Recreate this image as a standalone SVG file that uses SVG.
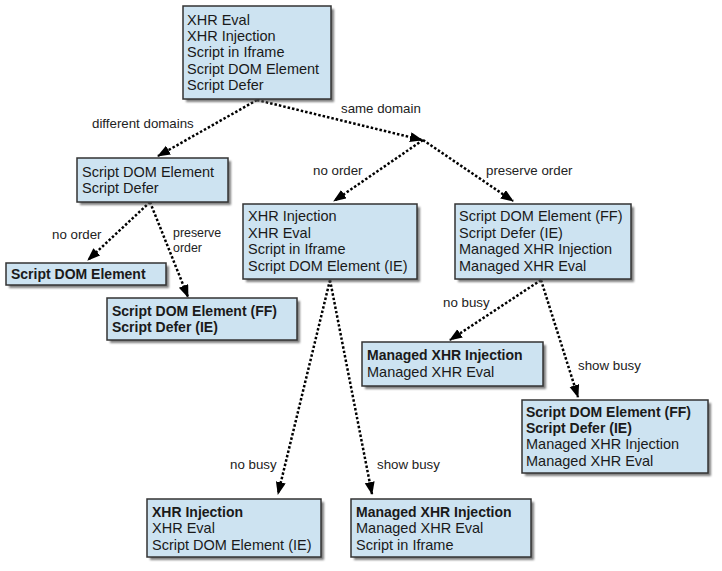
<svg xmlns="http://www.w3.org/2000/svg" width="722" height="571" viewBox="0 0 722 571">
<defs>
<filter id="sh" x="-10%" y="-10%" width="130%" height="140%">
<feGaussianBlur stdDeviation="1"/>
</filter>
<marker id="ah" markerUnits="userSpaceOnUse" markerWidth="14" markerHeight="12" refX="12" refY="5" orient="auto">
<path d="M0,0 L13,5 L0,10 z" fill="#000"/>
</marker>
</defs>
<style>
.box{fill:#cde3f1;stroke:#333;stroke-width:1.5}
.shd{fill:#555;opacity:0.75;filter:url(#sh)}
.t{font-family:"Liberation Sans",Arial,sans-serif;font-size:14.5px;fill:#1a1a1a}
.b{font-weight:bold;font-size:14px}
.lbl{font-family:"Liberation Sans",Arial,sans-serif;font-size:13.3px;fill:#222}
.sm{font-size:12.4px}
.c{fill:none;stroke:#000;stroke-width:2.5;stroke-dasharray:2.5 2;marker-end:url(#ah)}
</style>
<rect width="722" height="571" fill="#fff"/>

<g id="connectors">
<line class="c" x1="257" y1="100" x2="158" y2="156"/>
<line class="c" x1="257" y1="100" x2="422" y2="140"/>
<line class="c" x1="423" y1="140" x2="334" y2="201"/>
<line class="c" x1="423" y1="140" x2="513" y2="201"/>
<line class="c" x1="150" y1="202" x2="88" y2="260"/>
<line class="c" x1="150" y1="202" x2="188" y2="297"/>
<line class="c" x1="330" y1="280" x2="278" y2="494"/>
<line class="c" x1="330" y1="280" x2="372" y2="494"/>
<line class="c" x1="541" y1="280" x2="450" y2="340"/>
<line class="c" x1="541" y1="280" x2="578" y2="397"/>
<text class="lbl" x="92" y="128">different domains</text>
<text class="lbl" x="341" y="113">same domain</text>
<text class="lbl" x="52" y="239">no order</text>
<text class="lbl sm" x="173" y="237">preserve</text>
<text class="lbl sm" x="173" y="251.5">order</text>
<text class="lbl" x="313" y="175">no order</text>
<text class="lbl" x="486" y="175">preserve order</text>
<text class="lbl" x="443" y="307">no busy</text>
<text class="lbl" x="578" y="370">show busy</text>
<text class="lbl" x="230" y="469">no busy</text>
<text class="lbl" x="377" y="469">show busy</text>
</g>

<g id="n-top">
<rect class="shd" x="186" y="9" width="148" height="93"/>
<rect class="box" x="183" y="6" width="148" height="93"/>
<text class="t" x="187" y="25">XHR Eval</text>
<text class="t" x="187" y="41">XHR Injection</text>
<text class="t" x="187" y="57">Script in Iframe</text>
<text class="t" x="187" y="74">Script DOM Element</text>
<text class="t" x="187" y="90">Script Defer</text>
</g>

<g id="n-diffdomain">
<rect class="shd" x="80" y="161" width="151" height="44"/>
<rect class="box" x="77" y="158" width="151" height="44"/>
<text class="t" x="82" y="177">Script DOM Element</text>
<text class="t" x="82" y="193">Script Defer</text>
</g>

<g id="n-dd-noorder">
<rect class="shd" x="9" y="266" width="160" height="22"/>
<rect class="box" x="6" y="263" width="160" height="22"/>
<text class="t b" x="11" y="279">Script DOM Element</text>
</g>

<g id="n-dd-preserve">
<rect class="shd" x="110" y="301" width="190" height="42"/>
<rect class="box" x="107" y="298" width="190" height="42"/>
<text class="t b" x="112" y="316">Script DOM Element (FF)</text>
<text class="t b" x="112" y="332">Script Defer (IE)</text>
</g>

<g id="n-sd-noorder">
<rect class="shd" x="246" y="207" width="174" height="75"/>
<rect class="box" x="243" y="204" width="174" height="75"/>
<text class="t" x="248" y="221">XHR Injection</text>
<text class="t" x="248" y="238">XHR Eval</text>
<text class="t" x="248" y="254">Script in Iframe</text>
<text class="t" x="248" y="271">Script DOM Element (IE)</text>
</g>

<g id="n-sd-preserve">
<rect class="shd" x="458" y="207" width="176" height="75"/>
<rect class="box" x="455" y="204" width="176" height="75"/>
<text class="t" x="459" y="221">Script DOM Element (FF)</text>
<text class="t" x="459" y="238">Script Defer (IE)</text>
<text class="t" x="459" y="254">Managed XHR Injection</text>
<text class="t" x="459" y="271">Managed XHR Eval</text>
</g>

<g id="n-sp-nobusy">
<rect class="shd" x="365" y="345" width="181" height="44"/>
<rect class="box" x="362" y="342" width="181" height="44"/>
<text class="t b" x="367" y="360">Managed XHR Injection</text>
<text class="t" x="367" y="377">Managed XHR Eval</text>
</g>

<g id="n-sp-showbusy">
<rect class="shd" x="525" y="403" width="186" height="73"/>
<rect class="box" x="522" y="400" width="186" height="73"/>
<text class="t b" x="526" y="417">Script DOM Element (FF)</text>
<text class="t b" x="526" y="433">Script Defer (IE)</text>
<text class="t" x="526" y="449">Managed XHR Injection</text>
<text class="t" x="526" y="466">Managed XHR Eval</text>
</g>

<g id="n-sn-nobusy">
<rect class="shd" x="150" y="502" width="174" height="58"/>
<rect class="box" x="147" y="499" width="174" height="58"/>
<text class="t b" x="152" y="517">XHR Injection</text>
<text class="t" x="152" y="533">XHR Eval</text>
<text class="t" x="152" y="550">Script DOM Element (IE)</text>
</g>

<g id="n-sn-showbusy">
<rect class="shd" x="354" y="502" width="180" height="58"/>
<rect class="box" x="351" y="499" width="180" height="58"/>
<text class="t b" x="356" y="517">Managed XHR Injection</text>
<text class="t" x="356" y="533">Managed XHR Eval</text>
<text class="t" x="356" y="550">Script in Iframe</text>
</g>
</svg>
